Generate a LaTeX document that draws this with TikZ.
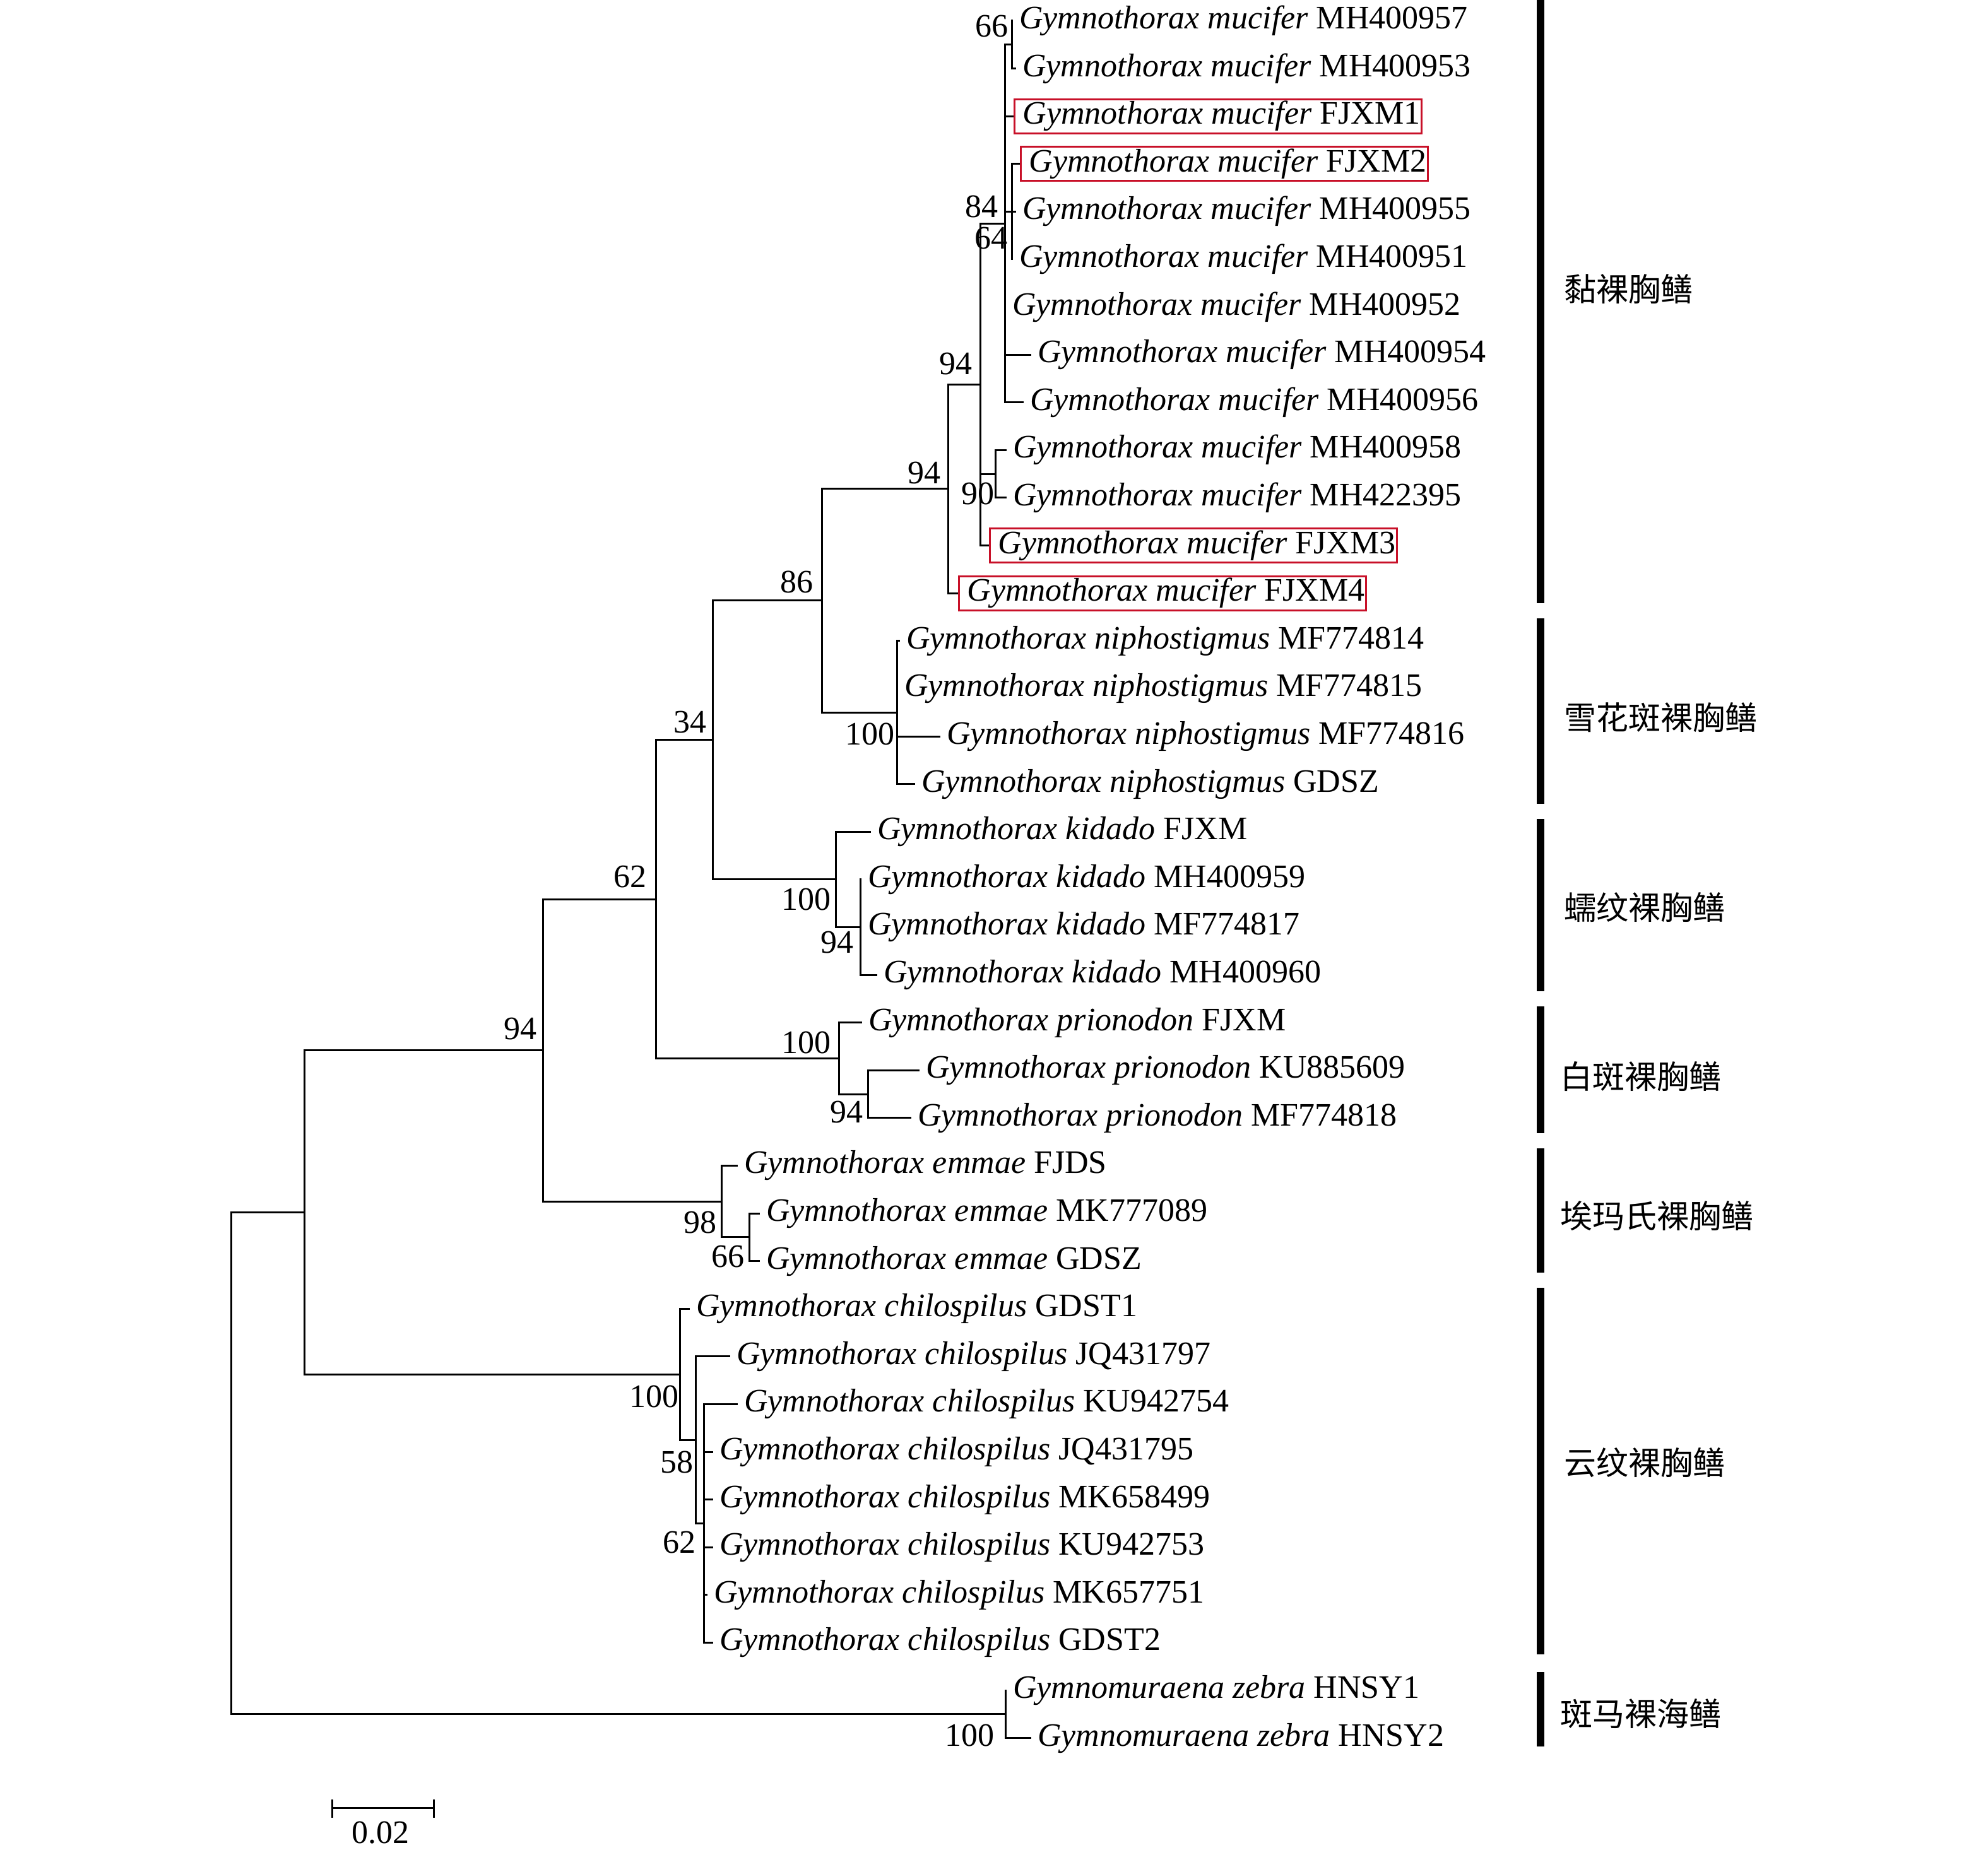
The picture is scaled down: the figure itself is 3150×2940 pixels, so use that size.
\documentclass[tikz,border=0pt]{standalone}
\usepackage{fontspec}
\setmainfont{Liberation Serif}
\newfontfamily\cjkfont{Noto Sans CJK SC}
\definecolor{boxred}{RGB}{200,16,40}
\newcommand{\GMu}{\textit{Gymnothorax mucifer}}
\newcommand{\GNi}{\textit{Gymnothorax niphostigmus}}
\newcommand{\GKi}{\textit{Gymnothorax kidado}}
\newcommand{\GPr}{\textit{Gymnothorax prionodon}}
\newcommand{\GEm}{\textit{Gymnothorax emmae}}
\newcommand{\GCh}{\textit{Gymnothorax chilospilus}}
\newcommand{\GZe}{\textit{Gymnomuraena zebra}}
\begin{document}
\begin{tikzpicture}[x=0.2bp, y=-0.2bp,
  br/.style={line width=0.6bp, line cap=rect},
  tiplab/.style={anchor=west, inner sep=0, xshift=2.2bp, font=\fontsize{10.4bp}{12bp}\selectfont, text height=7.3bp, text depth=2.3bp},
  boxlab/.style={anchor=west, draw=boxred, line width=0.6bp, inner xsep=0.5bp, inner ysep=0.6bp, font=\fontsize{10.4bp}{12bp}\selectfont, text height=7.3bp, text depth=2.3bp},
  bs/.style={inner sep=0, font=\fontsize{10.4bp}{12bp}\selectfont},
  grp/.style={anchor=west, inner sep=0, font=\cjkfont\fontsize{10.2bp}{12bp}\selectfont},
  grpbar/.style={line width=2.4bp}]
\useasboundingbox (0,0) rectangle (3150,2940);

% tip branch ends
\coordinate (e1) at (1603,33);
\coordinate (e2) at (1608,108.6);
\coordinate (e3) at (1606,184.2);
\coordinate (e4) at (1616,259.8);
\coordinate (e5) at (1608,335.4);
\coordinate (e6) at (1603,411);
\coordinate (e7) at (1592,486.6);
\coordinate (e8) at (1632,562.2);
\coordinate (e9) at (1620,637.8);
\coordinate (e10) at (1593,713.4);
\coordinate (e11) at (1593,789);
\coordinate (e12) at (1567,864.6);
\coordinate (e13) at (1518,940.2);
\coordinate (e14) at (1424,1015.8);
\coordinate (e15) at (1421,1091.4);
\coordinate (e16) at (1488,1167);
\coordinate (e17) at (1448,1242.6);
\coordinate (e18) at (1378,1318.2);
\coordinate (e19) at (1363,1393.8);
\coordinate (e20) at (1363,1469.4);
\coordinate (e21) at (1388,1545);
\coordinate (e22) at (1364,1620.6);
\coordinate (e23) at (1455,1696.2);
\coordinate (e24) at (1442,1771.8);
\coordinate (e25) at (1167,1847.4);
\coordinate (e26) at (1202,1923);
\coordinate (e27) at (1202,1998.6);
\coordinate (e28) at (1091,2074.2);
\coordinate (e29) at (1155,2149.8);
\coordinate (e30) at (1167,2225.4);
\coordinate (e31) at (1128,2301);
\coordinate (e32) at (1128,2376.6);
\coordinate (e33) at (1128,2452.2);
\coordinate (e34) at (1119,2527.8);
\coordinate (e35) at (1128,2603.4);
\coordinate (e36) at (1593,2679);
\coordinate (e37) at (1632,2754.6);

% internal nodes
\coordinate (nA) at (1603,70.8);
\coordinate (nB) at (1603,335.4);
\coordinate (nM) at (1592,354.3);
\coordinate (nC) at (1577,751.2);
\coordinate (nD) at (1553,609.5);
\coordinate (nE) at (1502,774.8);
\coordinate (nN) at (1421,1129.2);
\coordinate (nF) at (1302,952);
\coordinate (nK2) at (1363,1469.4);
\coordinate (nK1) at (1324,1393.8);
\coordinate (nG) at (1129,1172.9);
\coordinate (nP2) at (1375,1734);
\coordinate (nP1) at (1329,1677.3);
\coordinate (nH) at (1039,1425.1);
\coordinate (nEm2) at (1187,1960.8);
\coordinate (nEm1) at (1143,1904.1);
\coordinate (nI) at (860,1664.6);
\coordinate (nCh3) at (1115,2414.4);
\coordinate (nCh2) at (1102,2282.1);
\coordinate (nCh1) at (1077,2178.2);
\coordinate (nJ) at (482,1921.4);
\coordinate (nZ) at (1593,2716.8);
\coordinate (nR) at (366,2319);

% branches
\foreach \p/\c in {nA/e1,nA/e2,nM/nA,nM/e3,nM/nB,nM/e7,nM/e8,nM/e9,
  nB/e4,nB/e5,nB/e6,nC/e10,nC/e11,nD/nM,nD/nC,nD/e12,nE/nD,nE/e13,
  nN/e14,nN/e15,nN/e16,nN/e17,nF/nE,nF/nN,
  nK1/e18,nK1/nK2,nK2/e19,nK2/e20,nK2/e21,nG/nF,nG/nK1,
  nP1/e22,nP1/nP2,nP2/e23,nP2/e24,nH/nG,nH/nP1,
  nEm1/e25,nEm1/nEm2,nEm2/e26,nEm2/e27,nI/nH,nI/nEm1,
  nCh1/e28,nCh1/nCh2,nCh2/e29,nCh2/nCh3,nCh3/e30,nCh3/e31,nCh3/e32,nCh3/e33,nCh3/e34,nCh3/e35,
  nJ/nI,nJ/nCh1,nZ/e36,nZ/e37,nR/nJ,nR/nZ}
  \draw[br] (\p) |- (\c);

% tip labels
\node[tiplab] (t1) at (e1) {\GMu{} MH400957};
\node[tiplab] (t2) at (e2) {\GMu{} MH400953};
\node[boxlab] (t3) at (e3) {\hspace*{2.1bp}\GMu{} FJXM1};
\node[boxlab] (t4) at (e4) {\hspace*{2.1bp}\GMu{} FJXM2};
\node[tiplab] (t5) at (e5) {\GMu{} MH400955};
\node[tiplab] (t6) at (e6) {\GMu{} MH400951};
\node[tiplab] (t7) at (e7) {\GMu{} MH400952};
\node[tiplab] (t8) at (e8) {\GMu{} MH400954};
\node[tiplab] (t9) at (e9) {\GMu{} MH400956};
\node[tiplab] (t10) at (e10) {\GMu{} MH400958};
\node[tiplab] (t11) at (e11) {\GMu{} MH422395};
\node[boxlab] (t12) at (e12) {\hspace*{2.1bp}\GMu{} FJXM3};
\node[boxlab] (t13) at (e13) {\hspace*{2.1bp}\GMu{} FJXM4};
\node[tiplab] (t14) at (e14) {\GNi{} MF774814};
\node[tiplab] (t15) at (e15) {\GNi{} MF774815};
\node[tiplab] (t16) at (e16) {\GNi{} MF774816};
\node[tiplab] (t17) at (e17) {\GNi{} GDSZ};
\node[tiplab] (t18) at (e18) {\GKi{} FJXM};
\node[tiplab] (t19) at (e19) {\GKi{} MH400959};
\node[tiplab] (t20) at (e20) {\GKi{} MF774817};
\node[tiplab] (t21) at (e21) {\GKi{} MH400960};
\node[tiplab] (t22) at (e22) {\GPr{} FJXM};
\node[tiplab] (t23) at (e23) {\GPr{} KU885609};
\node[tiplab] (t24) at (e24) {\GPr{} MF774818};
\node[tiplab] (t25) at (e25) {\GEm{} FJDS};
\node[tiplab] (t26) at (e26) {\GEm{} MK777089};
\node[tiplab] (t27) at (e27) {\GEm{} GDSZ};
\node[tiplab] (t28) at (e28) {\GCh{} GDST1};
\node[tiplab] (t29) at (e29) {\GCh{} JQ431797};
\node[tiplab] (t30) at (e30) {\GCh{} KU942754};
\node[tiplab] (t31) at (e31) {\GCh{} JQ431795};
\node[tiplab] (t32) at (e32) {\GCh{} MK658499};
\node[tiplab] (t33) at (e33) {\GCh{} KU942753};
\node[tiplab] (t34) at (e34) {\GCh{} MK657751};
\node[tiplab] (t35) at (e35) {\GCh{} GDST2};
\node[tiplab] (t36) at (e36) {\GZe{} HNSY1};
\node[tiplab] (t37) at (e37) {\GZe{} HNSY2};

% bootstrap values
\node[bs] (b1) at (1571,42) {66};
\node[bs] (b2) at (1555,327) {84};
\node[bs] (b3) at (1570,378) {64};
\node[bs] (b4) at (1514,577) {94};
\node[bs] (b5) at (1464,750) {94};
\node[bs] (b6) at (1549,782) {90};
\node[bs] (b7) at (1262,922) {86};
\node[bs] (b8) at (1378,1163) {100};
\node[bs] (b9) at (1093,1145) {34};
\node[bs] (b10) at (1277,1425) {100};
\node[bs] (b11) at (1326,1494) {94};
\node[bs] (b12) at (998,1390) {62};
\node[bs] (b13) at (1277,1652) {100};
\node[bs] (b14) at (1341,1763) {94};
\node[bs] (b15) at (824,1631) {94};
\node[bs] (b16) at (1109,1937) {98};
\node[bs] (b17) at (1153,1992) {66};
\node[bs] (b18) at (1036,2213) {100};
\node[bs] (b19) at (1072,2317) {58};
\node[bs] (b20) at (1076,2445) {62};
\node[bs] (b21) at (1536,2750) {100};

% group bars
\coordinate (g1a) at (2441,0);    \coordinate (g1b) at (2441,956);
\coordinate (g2a) at (2441,980);  \coordinate (g2b) at (2441,1274);
\coordinate (g3a) at (2441,1298); \coordinate (g3b) at (2441,1571);
\coordinate (g4a) at (2441,1595); \coordinate (g4b) at (2441,1796);
\coordinate (g5a) at (2441,1820); \coordinate (g5b) at (2441,2017);
\coordinate (g6a) at (2441,2041); \coordinate (g6b) at (2441,2622);
\coordinate (g7a) at (2441,2650); \coordinate (g7b) at (2441,2768);
\foreach \i in {1,...,7} \draw[grpbar] (g\i a) -- (g\i b);

\node[grp] (c1) at (2477,458) {黏裸胸鳝};
\node[grp] (c2) at (2477,1137) {雪花斑裸胸鳝};
\node[grp] (c3) at (2477,1438) {蠕纹裸胸鳝};
\node[grp] (c4) at (2471,1706) {白斑裸胸鳝};
\node[grp] (c5) at (2471,1927) {埃玛氏裸胸鳝};
\node[grp] (c6) at (2477,2318) {云纹裸胸鳝};
\node[grp] (c7) at (2471,2716) {斑马裸海鳝};

% scale bar
\coordinate (sL) at (526,2865);
\coordinate (sR) at (687,2865);
\coordinate (sLt) at (526,2853); \coordinate (sLb) at (526,2879);
\coordinate (sRt) at (687,2853); \coordinate (sRb) at (687,2879);
\draw[br] (sL) -- (sR);
\draw[br] (sLt) -- (sLb);
\draw[br] (sRt) -- (sRb);
\node[bs] (sc) at (603,2905) {0.02};
\end{tikzpicture}
\end{document}
